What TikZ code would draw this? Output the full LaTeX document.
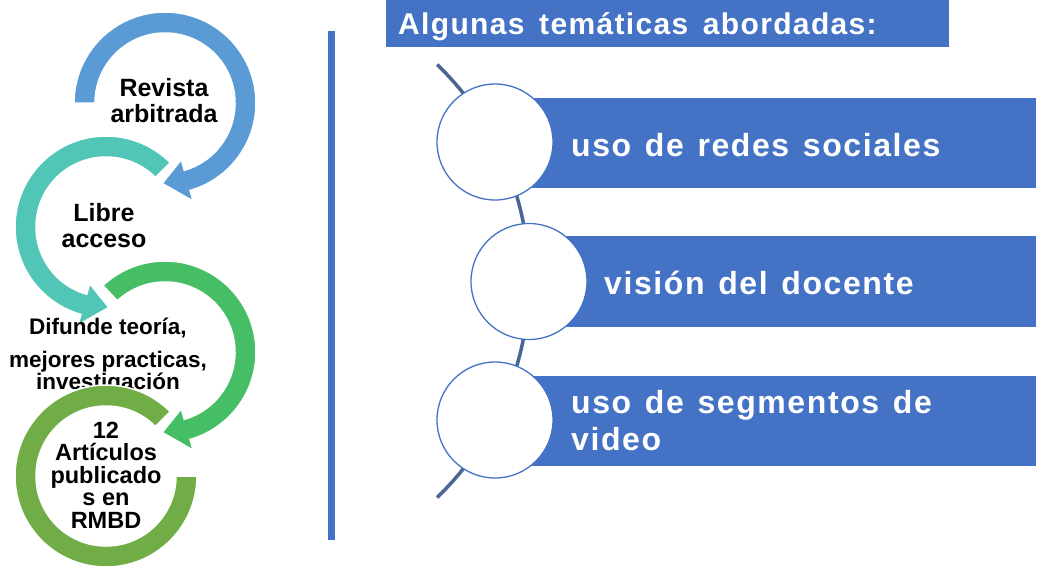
\documentclass[tikz,border=0pt]{standalone}
\usepackage{fontspec}
\setmainfont{Liberation Sans}
\newfontfamily\spacedfont[LetterSpace=5, WordSpace=1.3]{Liberation Sans}
\newfontfamily\titlefont[LetterSpace=4.5, WordSpace=1.5]{Liberation Sans}

\definecolor{barblue}{HTML}{4472C4}
\definecolor{arcblue}{HTML}{4A6692}
\definecolor{ringblue}{HTML}{5B9BD5}
\definecolor{ringteal}{HTML}{52C6B6}
\definecolor{ringgreen}{HTML}{46BE66}
\definecolor{ringolive}{HTML}{70AD47}

% ring arrow: centre x, centre y, start angle, end angle, tip angle, colour
\newcommand{\ringarrow}[6]{%
  \fill[#6, draw=white, line width=1.5pt, shift={(#1,#2)}]
    (#3:91) arc[start angle=#3, end angle=#4, radius=91]
    -- (#4:102) -- (#5:80.5) -- (#4:59) -- (#4:70)
    arc[start angle=#4, end angle=#3, radius=70] -- cycle;}

\begin{document}
\begin{tikzpicture}[x=1pt, y=-1pt,
  bar/.style={fill=barblue},
  bead/.style={circle, draw=barblue, line width=1.3pt, fill=white,
    minimum size=116pt, inner sep=0pt},
  topic/.style={text=white, font=\spacedfont\bfseries\fontsize{32}{37}\selectfont,
    inner sep=0pt, align=left},
  cyclelabel/.style={align=center, inner sep=0pt}]
\useasboundingbox (0,0) rectangle (1038,566);

% left: cycle of ring arrows
\ringarrow{165}{103}{-180}{74}{92}{ringblue}
\ringarrow{106}{227}{-45}{-254}{-272}{ringteal}
\ringarrow{165}{352}{-133}{74}{92}{ringgreen}
\node[cyclelabel, font=\bfseries\fontsize{25}{26}\selectfont] (revista) at (164,101) {Revista\\arbitrada};
\node[cyclelabel, font=\bfseries\fontsize{25}{26}\selectfont] (libre) at (104,226) {Libre\\acceso};
\node[cyclelabel, font=\bfseries\fontsize{22.5}{25}\selectfont] (difunde) at (108,356)
  {Difunde teoría,\\[8pt]mejores practicas,\\[-3pt]investigación};
\fill[ringolive, draw=white, line width=1.5pt, shift={(106,476)}]
  (-45:91) arc[start angle=-45, end angle=-360, radius=91]
  -- (0:70) arc[start angle=-360, end angle=-45, radius=70] -- cycle;
\node[cyclelabel, font=\bfseries\fontsize{23.5}{22.5}\selectfont] (articulos) at (106,475)
  {12\\Artículos\\publicado\\s en\\RMBD};

% divider
\draw[barblue, line width=7pt] (331,31) -- (331,540);

% right: title and topics
\fill[bar] (386,0) rectangle (949,47);
\node[anchor=base west, inner sep=0pt, text=white,
  font=\titlefont\bfseries\fontsize{30}{34}\selectfont] (titulo) at (398,34) {Algunas temáticas abordadas:};

\draw[arcblue, line width=3.5pt] (228,281) ++(-46:301) arc[start angle=-46, end angle=46, radius=301];

\fill[bar] (495,98) rectangle (1036,188);
\fill[bar] (529,236) rectangle (1036,327);
\fill[bar] (495,376) rectangle (1036,466);

\node[bead] (b1) at (495,142) {};
\node[bead] (b2) at (529,281.5) {};
\node[bead] (b3) at (495,420) {};

\node[topic, anchor=base west] (t1) at (571,156) {uso de redes sociales};
\node[topic, anchor=base west] (t2) at (604,294) {visión del docente};
\node[topic, anchor=west] (t3) at (571,421) {uso de segmentos de\\video};
\end{tikzpicture}
\end{document}
